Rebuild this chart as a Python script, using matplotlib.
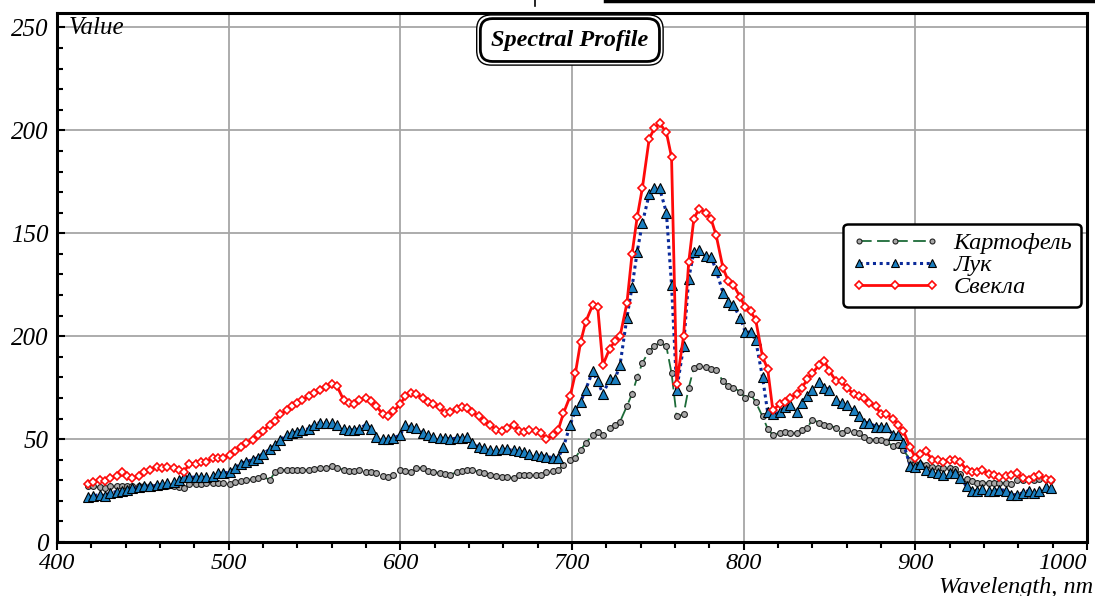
import numpy as np
import matplotlib
matplotlib.use("Agg")
import matplotlib.pyplot as plt
from matplotlib.lines import Line2D

# wavelength bands, nm
wavelength = [
    418, 421, 425, 428, 431, 435, 438, 441, 444, 448,
    451, 454, 458, 461, 464, 468, 471, 474, 477, 481,
    484, 487, 491, 494, 497, 501, 504, 507, 510, 514,
    517, 520, 524, 527, 530, 534, 537, 540, 543, 547,
    550, 553, 557, 560, 563, 567, 570, 573, 576, 580,
    583, 586, 590, 593, 596, 600, 603, 606, 609, 613,
    616, 619, 623, 626, 629, 633, 636, 639, 642, 646,
    649, 652, 656, 659, 662, 666, 669, 672, 675, 679,
    682, 685, 689, 692, 695, 699, 702, 705, 708, 712,
    715, 718, 722, 725, 728, 732, 735, 738, 741, 745,
    748, 751, 755, 758, 761, 765, 768, 771, 774, 778,
    781, 784, 788, 791, 794, 798, 801, 804, 807, 811,
    814, 817, 821, 824, 827, 831, 834, 837, 840, 844,
    847, 850, 854, 857, 860, 864, 867, 870, 873, 877,
    880, 883, 887, 890, 893, 897, 900, 903, 906, 910,
    913, 916, 920, 923, 926, 930, 933, 936, 939, 943,
    946, 949, 953, 956, 959, 963, 966, 969, 972, 976,
    979,
]

potato = [
    27, 27, 26.5, 26, 27, 27, 27, 27, 27, 27,
    27, 27, 27, 27, 27, 27, 26.5, 26, 28, 28,
    28, 28.7, 28.7, 28.7, 28.5, 28, 29, 29.5, 30, 30.5,
    31, 32, 30, 34, 35, 35, 35, 35, 35, 35,
    35.5, 36, 36, 37, 36, 35, 34.5, 34.5, 35, 34,
    34, 33.5, 32, 31.6, 32.6, 35, 34.5, 34, 36, 36,
    34.5, 34, 33.5, 33, 32.6, 34, 34.5, 35, 35, 34,
    33.5, 32.6, 32, 31.6, 31.5, 31, 32.6, 32.6, 32.6, 32.6,
    32.6, 34, 34.5, 35, 37.5, 40, 41, 44.7, 48, 52,
    53.5, 52, 55.4, 57, 58.5, 66, 72, 80, 87, 93,
    95, 97, 95, 82, 61, 62, 75, 84.5, 85.5, 85,
    84, 83.6, 78, 76, 75, 73, 70, 72, 68, 61,
    55, 52, 53, 53.5, 53, 53, 54.4, 55.4, 59.5, 58,
    57, 56.5, 55.5, 53, 54.4, 53.5, 53, 51, 49.6, 49.6,
    49.5, 48.6, 46.6, 47, 44.7, 40, 38, 38, 37.4, 36.5,
    36, 36, 36, 35.5, 33, 30.5, 29.5, 28.7, 28.7, 28.7,
    28.7, 28.7, 28.7, 28, 30, 30, 30.6, 30, 30.6, 30.6,
    30,
]

onion = [
    22, 22.5, 23, 22.5, 24, 24.5, 25, 25.5, 26, 26.5,
    27, 27, 27.5, 28, 28.5, 29, 30, 31.5, 31.5, 31.5,
    31.5, 31.5, 32, 33.5, 33.5, 34, 36, 38, 39, 40,
    41, 43, 45, 47, 49.5, 52, 53, 53.5, 54.5, 55,
    57, 58, 58, 58, 57, 55, 54.5, 54.5, 55, 57,
    55, 51, 50, 50, 50.5, 52, 57, 56, 55.5, 53,
    52, 51, 50.5, 50.5, 50, 50.5, 50.5, 51, 48, 46,
    45.5, 44.7, 44.7, 45, 45, 44.5, 44, 43.5, 43, 42.5,
    42, 41.5, 41, 41, 46, 57, 64, 68, 74, 83,
    78, 72, 79, 79, 86, 109, 124, 141, 155, 169,
    172, 172, 160, 125, 74, 95, 128, 141, 142, 139,
    138.5, 132, 121, 116.5, 115, 109, 102, 102, 98, 80,
    63, 62, 63, 65.6, 66.6, 63, 67.5, 71, 74, 77.5,
    75, 74, 69, 67.5, 66.6, 64, 61, 58, 58, 56,
    56, 56, 52, 52, 48, 37, 36.5, 38, 35, 34,
    33.5, 32.6, 33.5, 33.5, 31, 27, 25, 25, 25.7, 25,
    25, 25.5, 25, 23, 23, 24, 25, 24, 25, 26.5,
    26,
]

beet = [
    28, 29, 30, 29.5, 31, 32, 34, 32, 31, 32,
    34, 35, 36.5, 36, 36.5, 36, 35, 34, 38, 38,
    39, 39, 41, 41, 41, 42.5, 44, 46, 48, 49.5,
    52, 54, 57, 59, 62, 64, 66, 67.5, 69, 71,
    72.5, 74, 75.5, 77, 76, 69, 67.5, 67, 69, 70,
    68.5, 66, 62, 61, 63.5, 67, 71, 72.5, 72, 70,
    68, 67, 65.5, 62.5, 63, 64.5, 65.5, 65, 63, 61,
    59, 57, 54.5, 54, 55.5, 57, 54, 53.5, 54.5, 54,
    53, 50, 52, 54.5, 62.5, 71, 82, 97, 107, 115,
    114, 86, 94, 97.5, 100, 116, 140, 158, 172, 196,
    201, 203.5, 199, 187, 77, 100, 136, 157, 162, 160,
    157, 149, 133, 127, 125, 119, 114, 112, 108, 90,
    84, 64, 67, 68, 70, 72, 75, 79, 82, 86,
    88, 83, 78, 78, 75, 72, 71, 70, 67.5, 66,
    62, 62, 60, 57, 54, 46, 41, 43, 44, 40,
    40, 39, 40, 40, 39, 35, 34, 34, 35, 33,
    32.5, 31.5, 32, 32.6, 33.5, 31, 30, 31.6, 32.6, 30.5,
    30,
]

series_names = ["Картофель", "Лук", "Свекла"]
y_ticks = [0, 50, 100, 150, 200, 250]
y_tick_labels = ["0", "50", "200", "150", "200", "250"]
x_ticks = [400, 500, 600, 700, 800, 900, 1000]
x_tick_labels = ["400", "500", "600", "700", "800", "900", "1000"]

plt.rcParams["font.family"] = ["Liberation Serif", "DejaVu Serif"]
plt.rcParams["font.style"] = "italic"

fig = plt.figure(figsize=(10.95, 5.96), dpi=100)
ax = fig.add_axes([0.052, 0.0906, 0.9407, 0.8875])

ax.plot(wavelength, potato, color="#1c6b38", lw=1.3, dashes=(7, 3),
        marker="o", ms=4.2, mfc="#a8a8a8", mec="#202020", mew=0.8,
        label=series_names[0], zorder=3)
ax.plot(wavelength, onion, color="#0a2a9a", lw=2.2, ls=(0, (1, 1.2)),
        marker="^", ms=7, mfc="#1b7fc0", mec="black", mew=0.8,
        label=series_names[1], zorder=4)
ax.plot(wavelength, beet, color="#ff0a0a", lw=2.0,
        marker="D", ms=4.4, mfc="white", mec="#ff0a0a", mew=1.2,
        label=series_names[2], zorder=5)

ax.set_xlim(400, 1000)
ax.set_ylim(0, 257)
ax.set_xticks(x_ticks)
ax.set_xticklabels(x_tick_labels)
ax.set_xticks(np.arange(400, 1001, 20), minor=True)
ax.set_yticks(y_ticks)
ax.set_yticklabels(y_tick_labels)
ax.set_yticks(np.arange(0, 251, 10), minor=True)
ax.grid(True, which="major", color="#a6a6a6", lw=1.3, zorder=0)
ax.set_axisbelow(True)

ax.tick_params(axis="x", which="both", direction="out", width=1.5,
               labelsize=17.5, pad=2)
ax.tick_params(axis="x", which="major", length=6)
ax.tick_params(axis="x", which="minor", length=4)
ax.tick_params(axis="y", which="both", direction="in", width=1.5,
               labelsize=18, pad=6)
ax.tick_params(axis="y", which="major", length=6)
ax.tick_params(axis="y", which="minor", length=4)
# last x label sits left of its tick so it stays inside the figure
ax.get_xticklabels()[-1].set_horizontalalignment("right")
for sp in ax.spines.values():
    sp.set_linewidth(2.2)

ax.text(0.011, 0.972, "Value", transform=ax.transAxes, fontsize=18,
        va="center", ha="left")
fig.text(0.998, 0.005, "Wavelength, nm", fontsize=17.5,
         ha="right", va="baseline")

# title with double rounded frame
ax.text(0.498, 0.949, "Spectral Profile", transform=ax.transAxes,
        fontsize=17.5, fontweight="bold", color="white",
        ha="center", va="center", zorder=6,
        bbox=dict(boxstyle="round,pad=0.6,rounding_size=0.6", fc="white",
                  ec="black", lw=1.0))
ax.text(0.498, 0.949, "Spectral Profile", transform=ax.transAxes,
        fontsize=17.5, fontweight="bold", color="black",
        ha="center", va="center", zorder=7,
        bbox=dict(boxstyle="round,pad=0.45,rounding_size=0.5", fc="white",
                  ec="black", lw=2.0))

leg = ax.legend(loc="upper right", bbox_to_anchor=(0.994, 0.602),
                prop={"size": 17.5, "style": "italic"}, numpoints=3,
                handlelength=3.6, handletextpad=0.6, labelspacing=0.0,
                borderpad=0.35, fancybox=True, framealpha=1,
                edgecolor="black", borderaxespad=0)
leg.get_frame().set_linewidth(1.8)
for h in leg.get_lines():
    h.set_markersize(h.get_markersize() * 0.85)

# stray marks at the top of the image
fig.add_artist(Line2D([605 / 1095, 1.0], [0.998, 0.998], color="black",
                      lw=2.5, transform=fig.transFigure))
fig.add_artist(Line2D([535 / 1095, 535 / 1095], [1.0, 0.99], color="black",
                      lw=1.2, transform=fig.transFigure))

fig.savefig("out.png", dpi=100)
